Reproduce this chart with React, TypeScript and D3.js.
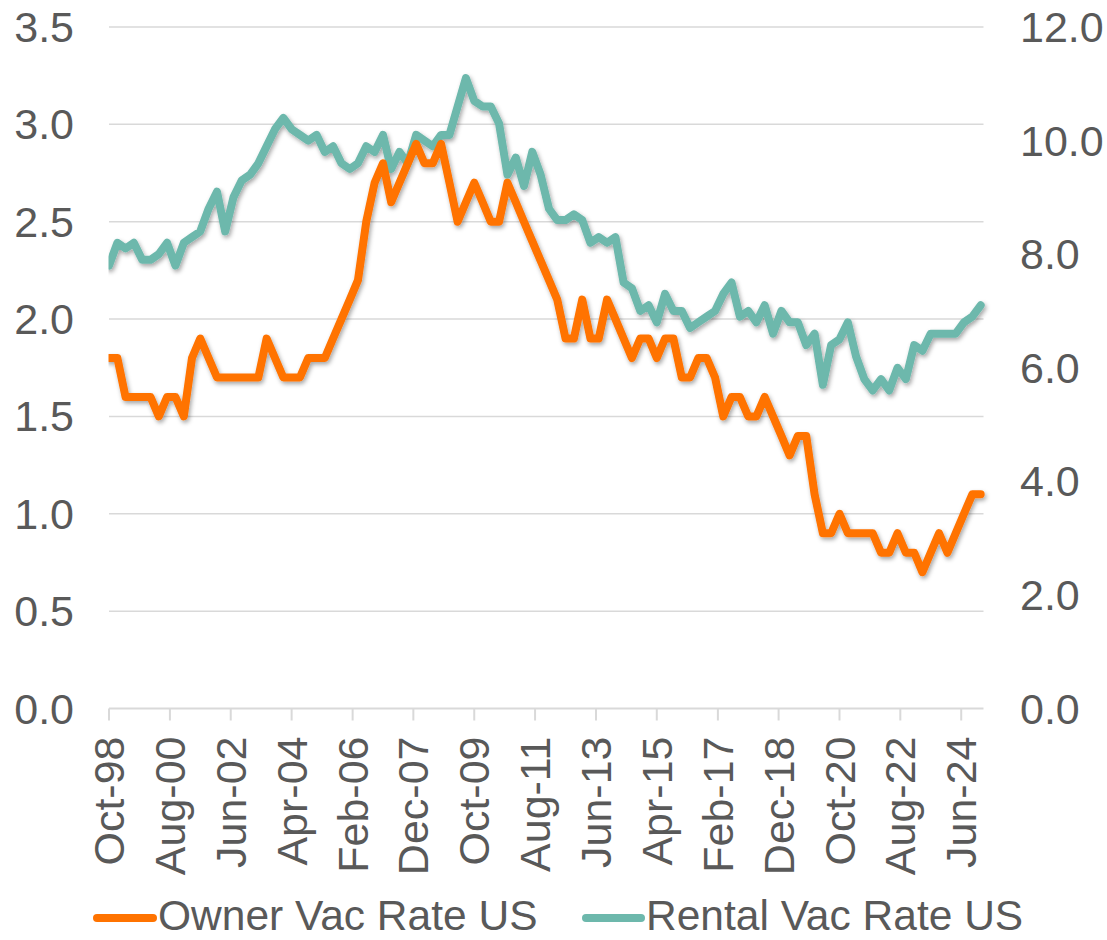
import React from 'react';
import * as d3 from 'd3';

// ---- Data (quarterly, starting Oct-98) ----
const firstQuarter = new Date(1998, 9, 1);
const axisEnd = new Date(2025, 1, 1);
const monthsPerQuarter = 3;
const tickStepMonths = 22;
const tickCount = 15;

const ownerVacRate = [
  1.8, 1.8, 1.6, 1.6, 1.6, 1.6, 1.5, 1.6, 1.6, 1.5,
  1.8, 1.9, 1.8, 1.7, 1.7, 1.7, 1.7, 1.7, 1.7, 1.9,
  1.8, 1.7, 1.7, 1.7, 1.8, 1.8, 1.8, 1.9, 2.0, 2.1,
  2.2, 2.5, 2.7, 2.8, 2.6, 2.7, 2.8, 2.9, 2.8, 2.8,
  2.9, 2.7, 2.5, 2.6, 2.7, 2.6, 2.5, 2.5, 2.7, 2.6,
  2.5, 2.4, 2.3, 2.2, 2.1, 1.9, 1.9, 2.1, 1.9, 1.9,
  2.1, 2.0, 1.9, 1.8, 1.9, 1.9, 1.8, 1.9, 1.9, 1.7,
  1.7, 1.8, 1.8, 1.7, 1.5, 1.6, 1.6, 1.5, 1.5, 1.6,
  1.5, 1.4, 1.3, 1.4, 1.4, 1.1, 0.9, 0.9, 1.0, 0.9,
  0.9, 0.9, 0.9, 0.8, 0.8, 0.9, 0.8, 0.8, 0.7, 0.8,
  0.9, 0.8, 0.9, 1.0, 1.1, 1.1,
];

const rentalVacRate = [
  7.8, 8.2, 8.1, 8.2, 7.9, 7.9, 8.0, 8.2, 7.8, 8.2,
  8.3, 8.4, 8.8, 9.1, 8.4, 9.0, 9.3, 9.4, 9.6, 9.9,
  10.2, 10.4, 10.2, 10.1, 10.0, 10.1, 9.8, 9.9, 9.6, 9.5,
  9.6, 9.9, 9.8, 10.1, 9.5, 9.8, 9.6, 10.1, 10.0, 9.9,
  10.1, 10.1, 10.6, 11.1, 10.7, 10.6, 10.6, 10.3, 9.4, 9.7,
  9.2, 9.8, 9.4, 8.8, 8.6, 8.6, 8.7, 8.6, 8.2, 8.3,
  8.2, 8.3, 7.5, 7.4, 7.0, 7.1, 6.8, 7.3, 7.0, 7.0,
  6.7, 6.8, 6.9, 7.0, 7.3, 7.5, 6.9, 7.0, 6.8, 7.1,
  6.6, 7.0, 6.8, 6.8, 6.4, 6.6, 5.7, 6.4, 6.5, 6.8,
  6.2, 5.8, 5.6, 5.8, 5.6, 6.0, 5.8, 6.4, 6.3, 6.6,
  6.6, 6.6, 6.6, 6.8, 6.9, 7.1,
];

const leftTicks = [0, 0.5, 1.0, 1.5, 2.0, 2.5, 3.0, 3.5];
const rightTicks = [0, 2, 4, 6, 8, 10, 12];
const seriesNames = ['Owner Vac Rate US', 'Rental Vac Rate US'];
const seriesColors = ['#FF7300', '#6DB8AC'];

// ---- Layout ----
const W = 1107;
const H = 940;
const plotLeft = 109;
const plotRight = 983.5;
const plotTop = 27;
const plotBottom = 708.5;
const FONT = '"Liberation Sans", Arial, Helvetica, sans-serif';
const TEXT_COLOR = '#595959';
const GRID = '#D9D9D9';
const AXIS_FONT = 43;
const LEGEND_FONT = 42.5;

export default function App() {
  const dates = ownerVacRate.map((_, i) => d3.timeMonth.offset(firstQuarter, i * monthsPerQuarter));
  const tickDates = d3.range(tickCount).map((k) => d3.timeMonth.offset(firstQuarter, k * tickStepMonths));

  const x = d3.scaleTime().domain([firstQuarter, axisEnd]).range([plotLeft, plotRight]);
  const yL = d3.scaleLinear().domain([0, 3.5]).range([plotBottom, plotTop]);
  const yR = d3.scaleLinear().domain([0, 12]).range([plotBottom, plotTop]);

  const fmt = d3.timeFormat('%b-%y');

  const ownerLine = d3
    .line<number>()
    .x((_, i) => x(dates[i]))
    .y((d) => yL(d))(ownerVacRate) as string;
  const rentalLine = d3
    .line<number>()
    .x((_, i) => x(dates[i]))
    .y((d) => yR(d))(rentalVacRate) as string;

  return (
    <svg
      width={W}
      height={H}
      style={{ position: 'absolute', left: 0, top: 0, background: '#fff' }}
      fontFamily={FONT}
    >
      <defs>
        <filter id="shadow" x="-10%" y="-10%" width="120%" height="130%">
          <feDropShadow dx="1.5" dy="2.5" stdDeviation="2" floodColor="#000" floodOpacity="0.35" />
        </filter>
        <clipPath id="plotClip">
          <rect x={plotLeft - 0.5} y={0} width={W - plotLeft} height={plotBottom + 20} />
        </clipPath>
      </defs>
      <rect x={0} y={0} width={W} height={H} fill="#fff" />

      {/* gridlines */}
      {leftTicks.slice(1).map((t) => (
        <line key={t} x1={plotLeft} x2={plotRight} y1={yL(t)} y2={yL(t)} stroke={GRID} strokeWidth={1.5} />
      ))}

      {/* x axis */}
      <line x1={plotLeft} x2={plotRight} y1={plotBottom} y2={plotBottom} stroke={GRID} strokeWidth={2} />
      {tickDates.map((d) => (
        <line key={+d} x1={x(d)} x2={x(d)} y1={plotBottom} y2={plotBottom + 12} stroke={GRID} strokeWidth={2} />
      ))}
      {tickDates.map((d) => (
        <text
          key={'l' + +d}
          transform={`translate(${x(d)},${plotBottom + 28}) rotate(-90)`}
          textAnchor="end"
          dy="0.35em"
          fontSize={AXIS_FONT}
          fill={TEXT_COLOR}
        >
          {fmt(d)}
        </text>
      ))}

      {/* left axis labels */}
      {leftTicks.map((t) => (
        <text key={'yl' + t} x={74} y={yL(t)} dy="0.35em" textAnchor="end" fontSize={AXIS_FONT} fill={TEXT_COLOR}>
          {t.toFixed(1)}
        </text>
      ))}
      {/* right axis labels */}
      {rightTicks.map((t) => (
        <text key={'yr' + t} x={1020} y={yR(t)} dy="0.35em" textAnchor="start" fontSize={AXIS_FONT} fill={TEXT_COLOR}>
          {t.toFixed(1)}
        </text>
      ))}

      {/* series */}
      <g clipPath="url(#plotClip)">
        <g filter="url(#shadow)">
          <path d={rentalLine} fill="none" stroke={seriesColors[1]} strokeWidth={8} strokeLinejoin="round" strokeLinecap="round" />
          <path d={ownerLine} fill="none" stroke={seriesColors[0]} strokeWidth={8} strokeLinejoin="round" strokeLinecap="round" />
        </g>
      </g>

      {/* legend */}
      <g>
        <line x1={97} x2={153} y1={918} y2={918} stroke={seriesColors[0]} strokeWidth={8} strokeLinecap="round" />
        <text x={158} y={930} fontSize={LEGEND_FONT} fill={TEXT_COLOR}>{seriesNames[0]}</text>
        <line x1={586} x2={641} y1={918} y2={918} stroke={seriesColors[1]} strokeWidth={8} strokeLinecap="round" />
        <text x={646} y={930} fontSize={LEGEND_FONT} fill={TEXT_COLOR}>{seriesNames[1]}</text>
      </g>
    </svg>
  );
}
